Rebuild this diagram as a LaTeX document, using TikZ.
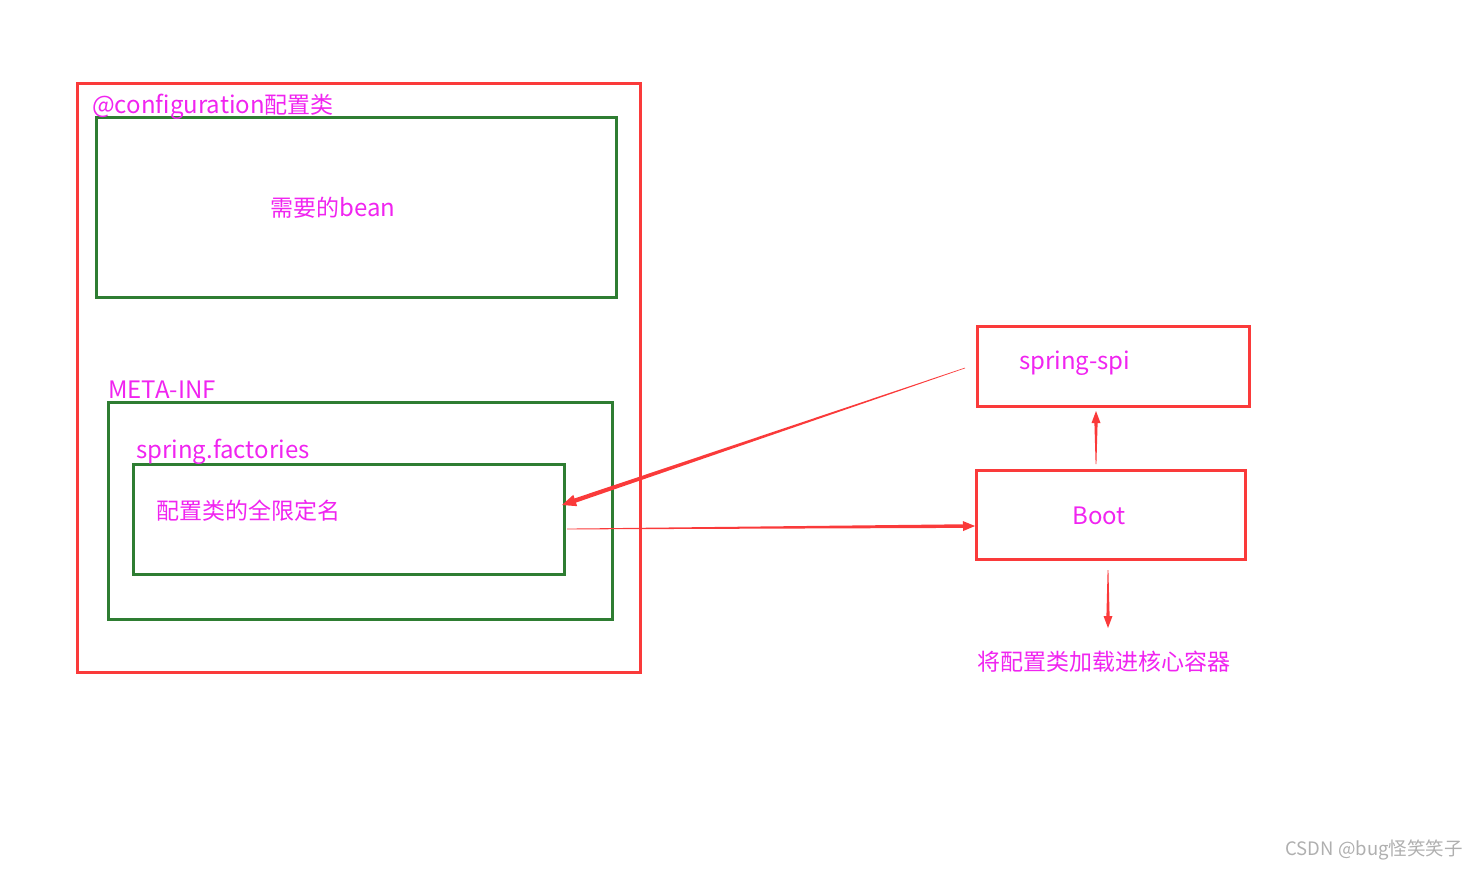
\documentclass[tikz,border=0pt]{standalone}
\usepackage{fontspec}
\setmainfont{Noto Sans CJK SC}
\usetikzlibrary{calc}
\definecolor{boxred}{RGB}{250,58,58}
\definecolor{boxgreen}{RGB}{46,125,50}
\definecolor{txtmag}{RGB}{240,36,240}
\definecolor{wmgray}{RGB}{175,175,175}
\newcommand\taparrow[6]{%
  \path coordinate (hb) at ($(#2)!#5!(#1)$);
  \fill[boxred] ($(#1)!#3!90:(#2)$) -- ($(hb)!#4!-90:(#1)$) -- ($(hb)!#6!-90:(#1)$) -- (#2)
    -- ($(hb)!#6!90:(#1)$) -- ($(hb)!#4!90:(#1)$) -- ($(#1)!#3!-90:(#2)$) -- cycle;
}
\newcommand\latsz{\fontsize{24}{28}\selectfont}
\tikzset{
  redbox/.style={draw=boxred, line width=3pt, inner sep=0pt},
  greenbox/.style={draw=boxgreen, line width=3pt, inner sep=0pt},
  lbl/.style={text=txtmag, font=\fontsize{23}{28}\selectfont, inner sep=0pt},
  latlbl/.style={lbl, font=\latsz},
  wm/.style={text=wmgray, font=\fontsize{18.5}{22}\selectfont, inner sep=0pt}
}
\begin{document}
\begin{tikzpicture}[x=1pt,y=-1pt]
\useasboundingbox (0,0) rectangle (1479,870);
% boxes
\node[redbox, minimum width=563pt, minimum height=589pt] (cfg) at (358.5,377.5) {};
\node[greenbox, minimum width=520pt, minimum height=180pt] (bean) at (356,207) {};
\node[greenbox, minimum width=504pt, minimum height=217pt] (meta) at (360,510.5) {};
\node[greenbox, minimum width=431pt, minimum height=110pt] (fact) at (348.5,519) {};
\node[redbox, minimum width=272pt, minimum height=80pt] (spi) at (1113,366) {};
\node[redbox, minimum width=269pt, minimum height=89pt] (boot) at (1110.5,514.5) {};
% labels
\node[lbl, anchor=base west] (tcfg) at (92,113) {{\latsz @configuration}配置类};
\node[lbl] (tbean) at (333,208) {需要的{\latsz bean}};
\node[latlbl, anchor=base west] (tmeta) at (108,398) {META-INF};
\node[latlbl, anchor=base west] (tfact) at (136,458) {spring.factories};
\node[lbl, anchor=west] (tfqn) at (156,511) {配置类的全限定名};
\node[latlbl, anchor=base west] (tspi) at (1019,369) {spring-spi};
\node[latlbl] (tboot) at (1099,516) {Boot};
\node[lbl] (tload) at (1104,662) {将配置类加载进核心容器};
\node[wm, anchor=east] (wmark) at (1463,850) {CSDN @bug怪笑笑子};
% connector end points
\coordinate (a1s) at (965,368);
\coordinate (a1t) at (562,505);
\coordinate (a2s) at (567,529);
\coordinate (a2t) at (975,526);
\coordinate (a3s) at (1096,464);
\coordinate (a3t) at (1096,411);
\coordinate (a4s) at (1108,570);
\coordinate (a4t) at (1108,628);
% arrows
\taparrow{a1s}{a1t}{0.3pt}{2.2pt}{14pt}{6pt}
\taparrow{a2s}{a2t}{0.4pt}{1.8pt}{12pt}{5pt}
\taparrow{a3s}{a3t}{0.4pt}{1.6pt}{12pt}{4.5pt}
\taparrow{a4s}{a4t}{0.4pt}{1.6pt}{12pt}{4.5pt}
\end{tikzpicture}
\end{document}
